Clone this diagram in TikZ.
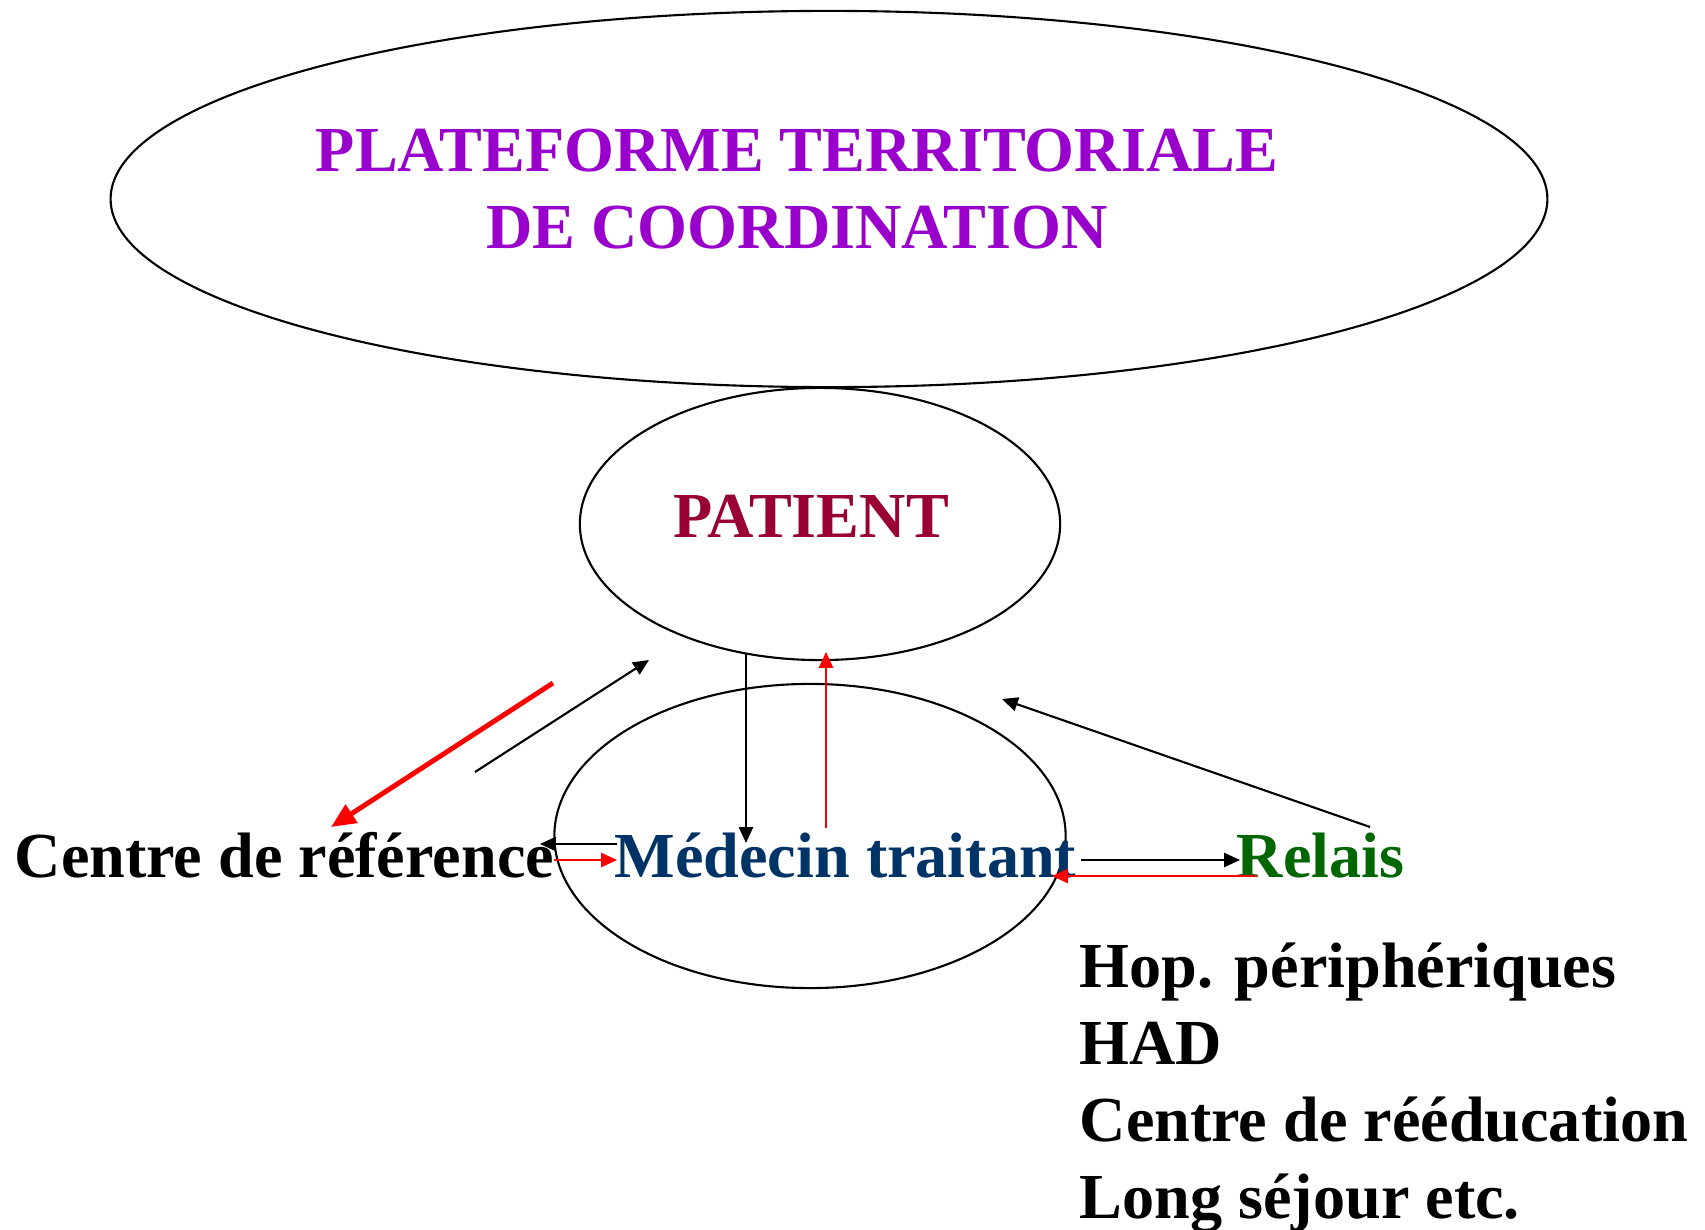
\documentclass[tikz,border=0pt]{standalone}
\usepackage{fontspec}
\setmainfont{Liberation Serif}
\usepackage{xcolor}
\usetikzlibrary{shapes.geometric,arrows.meta}
\definecolor{plateformeviolet}{HTML}{9900CC}
\definecolor{patientred}{HTML}{990033}
\definecolor{medecinblue}{HTML}{003366}
\definecolor{relaisgreen}{HTML}{006600}

\begin{document}
\begin{tikzpicture}[
    x=0.01cm, y=-0.01cm,
    bubble/.style={ellipse, draw, line width=0.6pt, inner sep=0pt},
    txt/.style={font=\fontsize{18.25}{21.9}\selectfont\bfseries, inner sep=0pt},
    arrow/.style={->, >={Triangle[length=4.5pt,width=4pt]}, line width=0.6pt},
    redarrow/.style={arrow, red},
    bigarrow/.style={->, >={Triangle[length=7pt,width=6pt]}, line width=1.4pt, red}
]
\useasboundingbox (0,0) rectangle (1705,1230);

% ellipses
\node[bubble, minimum width=14.36cm, minimum height=3.76cm] (plateforme) at (829,199) {};
\node[bubble, minimum width=4.8cm, minimum height=2.72cm] (patient) at (820,524) {};
\node[bubble, minimum width=5.11cm, minimum height=3.04cm] (medecin) at (810,836) {};

% texts
\node[txt, align=center, text=plateformeviolet] (plateformetxt) at (797,189)
    {PLATEFORME TERRITORIALE\\DE COORDINATION};
\node[txt, anchor=base, text=patientred] (patienttxt) at (811,537) {PATIENT};
\node[txt, anchor=base west] (centre) at (14,877) {Centre de référence};
\node[txt, anchor=base west, text=medecinblue] (medecintxt) at (614,877) {Médecin traitant};
\node[txt, anchor=base west, text=relaisgreen] (relais) at (1236,877) {Relais};
\foreach \item [count=\i] in {Hop. périphériques, HAD, Centre de rééducation, Long séjour etc.}
    \node[txt, anchor=base west] (item\i) at (1079,910+77*\i) {\item};

% arrow ends
\coordinate (refa) at (553,683);
\coordinate (refb) at (331,827);
\coordinate (refc) at (475,772);
\coordinate (refd) at (649,660);
\coordinate (pata) at (746,653);
\coordinate (patb) at (746,843);
\coordinate (patc) at (826,828);
\coordinate (patd) at (826,652);
\coordinate (rela) at (1370,827);
\coordinate (relb) at (1002,699);
\coordinate (cra) at (617,844);
\coordinate (crb) at (540,844);
\coordinate (crc) at (554,860);
\coordinate (crd) at (617,860);
\coordinate (mra) at (1081,860);
\coordinate (mrb) at (1240,860);
\coordinate (mrc) at (1257,876);
\coordinate (mrd) at (1052,876);

\draw[bigarrow] (refa) -- (refb);
\draw[arrow] (refc) -- (refd);
\draw[arrow] (pata) -- (patb);
\draw[redarrow] (patc) -- (patd);
\draw[arrow] (rela) -- (relb);
\draw[arrow] (cra) -- (crb);
\draw[redarrow] (crc) -- (crd);
\draw[arrow] (mra) -- (mrb);
\draw[redarrow] (mrc) -- (mrd);

\end{tikzpicture}
\end{document}
